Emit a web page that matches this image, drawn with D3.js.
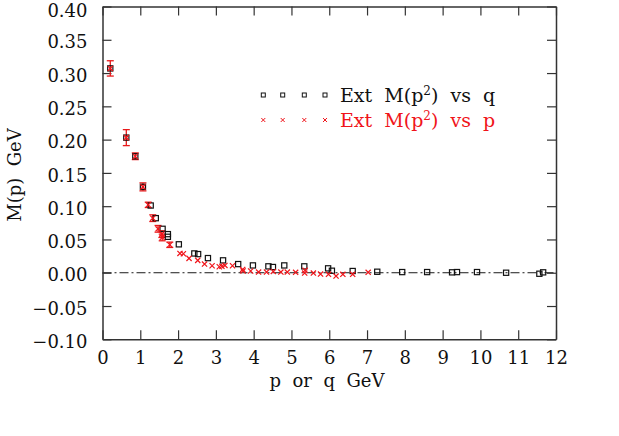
<!DOCTYPE html>
<html><head><meta charset="utf-8">
<script src="https://cdn.jsdelivr.net/npm/d3@7"></script>
<style>body{margin:0;background:#fff}svg{display:block}text{font-family:"DejaVu Serif",serif;}</style>
</head><body><svg id="c" width="619" height="436"></svg>
<script>
// data
const qX = [0.206,0.63,0.868,1.07,1.275,1.41,1.59,1.73,1.73,2.02,2.43,2.53,2.79,3.19,3.59,3.98,4.39,4.51,4.81,5.34,5.97,6.07,6.62,7.27,7.93,8.59,9.25,9.38,9.91,10.68,11.56,11.66];
const qY = [0.307,0.203,0.175,0.129,0.101,0.082,0.066,0.058,0.054,0.0427,0.029,0.028,0.022,0.0186,0.013,0.011,0.0096,0.0086,0.011,0.0096,0.0066,0.003,0.0026,0.0015,0.001,0.001,0.0006,0.001,0.001,0.0,-0.0015,0.0006];
const pX = [0.206,0.63,0.868,1.07,1.21,1.33,1.47,1.57,1.58,1.78,2.05,2.14,2.29,2.52,2.70,2.90,3.09,3.16,3.24,3.44,3.71,3.72,3.92,4.13,4.34,4.52,4.72,4.89,5.11,5.35,5.36,5.58,5.77,5.98,6.18,6.36,6.62,7.03];
const pY = [0.307,0.203,0.175,0.129,0.102,0.082,0.066,0.058,0.053,0.042,0.029,0.0285,0.0216,0.0186,0.013,0.0105,0.009,0.0096,0.011,0.0105,0.005,0.0026,0.0026,0.001,0.001,0.002,0.001,0.001,0.0006,-0.0005,0.0036,-0.0005,-0.002,-0.0024,-0.005,-0.0024,-0.0024,0.0006];
const pErr = [0.0115,0.012,0.005,0.006,0.004,0.005,0.005,0.005,0.005,0.004,0,0,0,0,0,0,0,0,0,0,0,0,0,0,0,0,0,0,0,0,0,0,0,0,0,0,0,0];
const xTicks = [0,1,2,3,4,5,6,7,8,9,10,11,12];
const yTicks = [-0.10,-0.05,0.00,0.05,0.10,0.15,0.20,0.25,0.30,0.35,0.40];
const legendLabels = ["Ext M(p\u00B2) vs q","Ext M(p\u00B2) vs p"];
const xTitle = "p  or  q  GeV";
const yTitle = "M(p)  GeV";

const svg = d3.select("#c");
const L=102.5,R=556,T=6.5,B=339.3;
const x = d3.scaleLinear().domain([0,12]).range([L,R]);
const y = d3.scaleLinear().domain([-0.10,0.40]).range([B,T]);
const axCol="#333";

// zero line dash-dot
svg.append("line").attr("x1",L).attr("x2",R).attr("y1",y(0)).attr("y2",y(0))
  .attr("stroke","#000").attr("stroke-width",0.9).attr("stroke-dasharray","9,3,2,3");

// axes with inward ticks
const fmtY = d=> (d<0?"\u2212":"")+Math.abs(d).toFixed(2);
const gB = svg.append("g").attr("transform",`translate(0,${B})`).call(d3.axisBottom(x).tickValues(xTicks).tickSizeInner(-9).tickSizeOuter(0).tickPadding(18).tickFormat(d3.format("d")));
const gT = svg.append("g").attr("transform",`translate(0,${T})`).call(d3.axisTop(x).tickValues(xTicks).tickSizeInner(-9).tickSizeOuter(0).tickFormat(""));
const gL = svg.append("g").attr("transform",`translate(${L},0)`).call(d3.axisLeft(y).tickValues(yTicks).tickSizeInner(-9).tickSizeOuter(0).tickPadding(15).tickFormat(fmtY));
const gR = svg.append("g").attr("transform",`translate(${R},0)`).call(d3.axisRight(y).tickValues(yTicks).tickSizeInner(-9).tickSizeOuter(0).tickFormat(""));
[gB,gT,gL,gR].forEach(g=>{g.selectAll("path").attr("stroke",axCol).attr("stroke-width",1.5);
  g.selectAll("line").attr("stroke",axCol).attr("stroke-width",1.2);
  g.selectAll("text").attr("font-family","DejaVu Serif").attr("font-size",18).attr("fill","#111");});
gB.selectAll("text").attr("dy","0.35em");
gL.selectAll("text").attr("dy",d=> d>=0.399 ? "0.58em" : "0.45em");

// titles
svg.append("text").attr("x",327).attr("y",387).attr("text-anchor","middle").attr("font-size",18)
  .style("white-space","pre").attr("fill","#111").text(xTitle);
svg.append("text").attr("transform",`translate(21,${175}) rotate(-90)`).attr("text-anchor","middle").attr("font-size",18)
  .style("white-space","pre").attr("fill","#111").text(yTitle);

// error bars for p series
const eb = svg.append("g").attr("stroke","#e8191a").attr("stroke-width",1.3);
pX.forEach((d,i)=>{ if(pErr[i]>0){
  const cx=x(d), y1=y(pY[i]-pErr[i]), y2=y(pY[i]+pErr[i]);
  eb.append("line").attr("x1",cx).attr("x2",cx).attr("y1",y1).attr("y2",y2);
  eb.append("line").attr("x1",cx-3.5).attr("x2",cx+3.5).attr("y1",y1).attr("y2",y1);
  eb.append("line").attr("x1",cx-3.5).attr("x2",cx+3.5).attr("y1",y2).attr("y2",y2);
}});

// q squares
const s=2.6;
svg.append("g").selectAll("rect").data(qX).join("rect")
  .attr("x",(d)=>x(d)-s).attr("y",(d,i)=>y(qY[i])-s).attr("width",2*s).attr("height",2*s)
  .attr("fill","none").attr("stroke","#111").attr("stroke-width",1.2);

// p crosses
const c=2.6;
const gx = svg.append("g").attr("stroke","#f0141a").attr("stroke-width",1.2);
pX.forEach((d,i)=>{const cx=x(d),cy=y(pY[i]);
  gx.append("path").attr("d",`M${cx-c},${cy-c}L${cx+c},${cy+c}M${cx-c},${cy+c}L${cx+c},${cy-c}`);});

// legend
const lgX=[263.3,282.7,304.3,325];
const lg = svg.append("g");
lgX.forEach(px=>{
  lg.append("rect").attr("x",px-2).attr("y",95-2).attr("width",4).attr("height",4).attr("fill","none").attr("stroke","#111").attr("stroke-width",1);
  lg.append("path").attr("d",`M${px-2},${120-2}L${px+2},${120+2}M${px-2},${120+2}L${px+2},${120-2}`).attr("stroke","#f0141a").attr("stroke-width",1);
});
legendLabels.forEach((t,i)=>{
  const tx = lg.append("text").attr("x",340).attr("y",[101.5,126.5][i]).attr("font-size",19)
    .attr("fill",i?"#f0141a":"#111").style("white-space","pre");
  const parts = t.split("\u00B2");
  tx.append("tspan").text(parts[0].replace(/ /g,"  "));
  tx.append("tspan").attr("dy",-7).attr("font-size",12).text("2");
  tx.append("tspan").attr("dy",7).text(parts[1].replace(/ /g,"  "));
});
</script></body></html>
